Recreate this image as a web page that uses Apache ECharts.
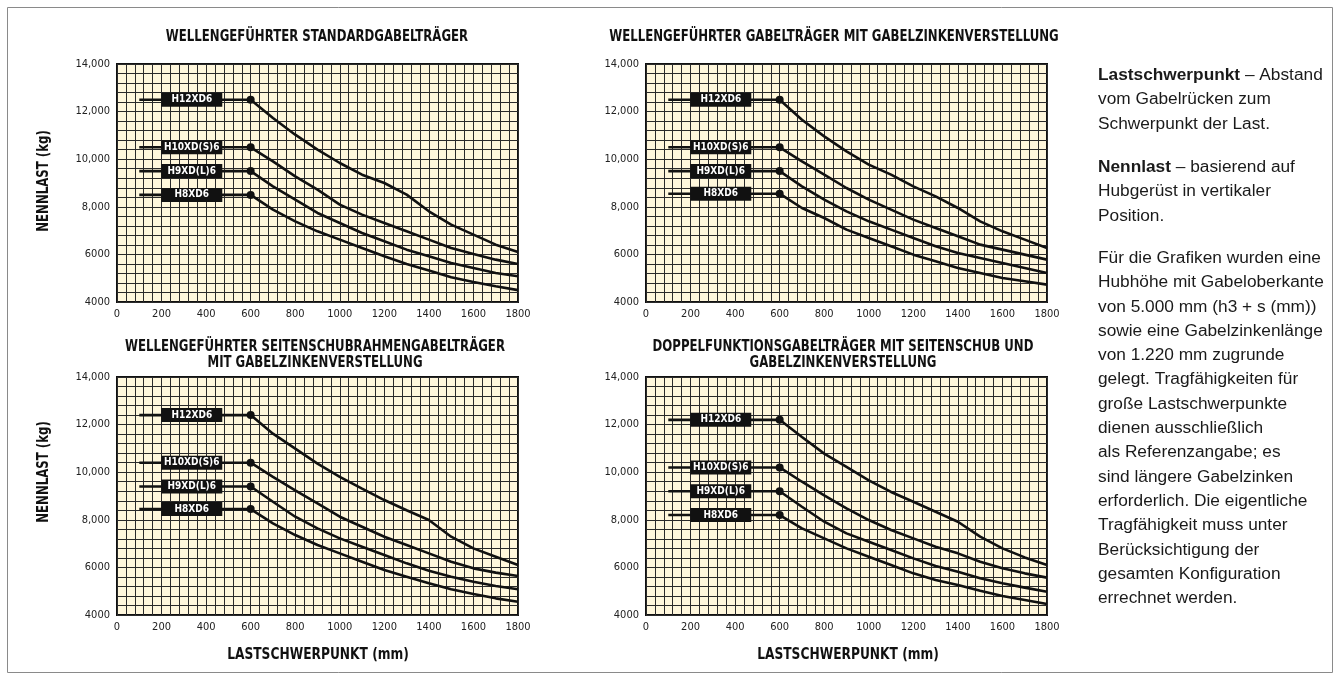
<!DOCTYPE html>
<html><head><meta charset="utf-8">
<script src="https://cdn.jsdelivr.net/npm/echarts@6/dist/echarts.min.js"></script>
<style>html,body{margin:0;padding:0;background:#fff}#c{width:1340px;height:679px}</style>
</head><body><div id="c"></div>
<script>
// ---------- data ----------
const chartTitles = [
  ['WELLENGEFÜHRTER STANDARDGABELTRÄGER'],
  ['WELLENGEFÜHRTER GABELTRÄGER MIT GABELZINKENVERSTELLUNG'],
  ['WELLENGEFÜHRTER SEITENSCHUBRAHMENGABELTRÄGER', 'MIT GABELZINKENVERSTELLUNG'],
  ['DOPPELFUNKTIONSGABELTRÄGER MIT SEITENSCHUB UND', 'GABELZINKENVERSTELLUNG']
];
const modelNames = ['H12XD6', 'H10XD(S)6', 'H9XD(L)6', 'H8XD6'];
const flatStart = 100;   // mm where the rated-capacity line begins
const loadCenters = [600, 700, 800, 900, 1000, 1100, 1200, 1300, 1400, 1500, 1600, 1700, 1800];

const c1_H12 = [12500, 11730, 11030, 10400, 9840, 9350, 9000, 8510, 7810, 7250, 6830, 6410, 6100];
const c1_H10 = [10500, 9910, 9280, 8720, 8090, 7670, 7320, 6970, 6620, 6270, 6020, 5780, 5600];
const c1_H9  = [9500, 8860, 8300, 7740, 7320, 6900, 6550, 6200, 5920, 5640, 5430, 5220, 5080];
const c1_H8  = [8500, 7880, 7390, 6970, 6620, 6270, 5920, 5600, 5320, 5040, 4840, 4660, 4500];

const c2_H12 = [12500, 11660, 10960, 10330, 9770, 9350, 8860, 8440, 7950, 7390, 6970, 6620, 6270];
const c2_H10 = [10500, 9910, 9350, 8790, 8300, 7880, 7460, 7110, 6760, 6410, 6200, 5990, 5780];
const c2_H9  = [9500, 8860, 8300, 7810, 7390, 7040, 6690, 6340, 6060, 5850, 5640, 5430, 5220];
const c2_H8  = [8550, 7950, 7530, 7040, 6690, 6340, 5990, 5710, 5430, 5220, 5010, 4870, 4730];

const c3_H12 = [12400, 11620, 10990, 10360, 9800, 9310, 8830, 8400, 7990, 7290, 6800, 6450, 6100];
const c3_H10 = [10400, 9800, 9240, 8690, 8130, 7710, 7290, 6940, 6590, 6240, 5960, 5780, 5640];
const c3_H9  = [9400, 8760, 8130, 7640, 7220, 6870, 6520, 6170, 5860, 5610, 5400, 5220, 5080];
const c3_H8  = [8450, 7850, 7360, 6940, 6590, 6240, 5890, 5610, 5330, 5080, 4880, 4700, 4560];

const c4_H12 = [12200, 11480, 10780, 10220, 9660, 9170, 8760, 8340, 7920, 7290, 6800, 6420, 6100];
const c4_H10 = [10200, 9600, 9030, 8480, 7990, 7570, 7220, 6870, 6590, 6240, 5960, 5750, 5570];
const c4_H9  = [9200, 8550, 7920, 7430, 7080, 6730, 6380, 6060, 5820, 5540, 5330, 5150, 4980];
const c4_H8  = [8200, 7640, 7220, 6800, 6450, 6100, 5750, 5470, 5260, 5020, 4800, 4630, 4460];

const xTickValues = [0, 200, 400, 600, 800, 1000, 1200, 1400, 1600, 1800];
const xTickLabels = ['0', '200', '400', '600', '800', '1000', '1200', '1400', '1600', '1800'];
const yTickValues = [4000, 6000, 8000, 10000, 12000, 14000];
const yTickLabels = ['4000', '6000', '8,000', '10,000', '12,000', '14,000'];

const yAxisTitle = 'NENNLAST (kg)';
const xAxisTitle = 'LASTSCHWERPUNKT (mm)';

const notes = [
  ['{b|Lastschwerpunkt} – Abstand', 'vom Gabelrücken zum', 'Schwerpunkt der Last.'],
  ['{b|Nennlast} – basierend auf', 'Hubgerüst in vertikaler', 'Position.'],
  ['Für die Grafiken wurden eine', 'Hubhöhe mit Gabeloberkante', 'von 5.000 mm (h3 + s (mm))',
   'sowie eine Gabelzinkenlänge', 'von 1.220 mm zugrunde', 'gelegt. Tragfähigkeiten für',
   'große Lastschwerpunkte', 'dienen ausschließlich', 'als Referenzangabe; es',
   'sind längere Gabelzinken', 'erforderlich. Die eigentliche', 'Tragfähigkeit muss unter',
   'Berücksichtigung der', 'gesamten Konfiguration', 'errechnet werden.']
];

const chartSeries = [
  [c1_H12, c1_H10, c1_H9, c1_H8],
  [c2_H12, c2_H10, c2_H9, c2_H8],
  [c3_H12, c3_H10, c3_H9, c3_H8],
  [c4_H12, c4_H10, c4_H9, c4_H8]
];

// ---------- layout / style ----------
const NARROW = '"Liberation Sans Narrow","DejaVu Sans Condensed","Arial Narrow",sans-serif';
const SANS = '"Liberation Sans",Arial,Helvetica,sans-serif';
const gridBoxes = [
  {left: 117, top: 64, width: 401, height: 238},
  {left: 646, top: 64, width: 401, height: 238},
  {left: 117, top: 377, width: 401, height: 238},
  {left: 646, top: 377, width: 401, height: 238}
];
const titleAnchors = [
  {x: 317, y: 29}, {x: 834, y: 29}, {x: 315, y: 339}, {x: 843, y: 339}
];
const yNameAnchors = [{x: 44, y: 181}, {x: 44, y: 472}];
const xNameAnchors = [{x: 318, y: 655}, {x: 848, y: 655}];
const TEXT_SQUEEZE = 0.87;

const GRIDLINE = '#2a2a2a';
const grids = [], xAxes = [], yAxes = [], series = [];

gridBoxes.forEach((b, g) => {
  grids.push(Object.assign({show: true, backgroundColor: '#FFF7DC', borderColor: '#111', borderWidth: 2, containLabel: false}, b));
  xAxes.push({
    type: 'value', gridIndex: g, min: 0, max: 1800, interval: 200,
    axisLine: {show: false}, axisTick: {show: false},
    axisLabel: {fontFamily: NARROW, fontSize: 11, color: '#222', margin: 7,
      formatter: v => { const i = xTickValues.indexOf(v); return i >= 0 ? xTickLabels[i] : ''; }},
    splitLine: {show: true, lineStyle: {color: GRIDLINE, width: 1}},
    minorTick: {show: false, splitNumber: 5},
    minorSplitLine: {show: true, lineStyle: {color: GRIDLINE, width: 1}}
  });
  yAxes.push({
    type: 'value', gridIndex: g, min: 4000, max: 14000, interval: 2000,
    axisLine: {show: false}, axisTick: {show: false},
    axisLabel: {fontFamily: NARROW, fontSize: 11, color: '#222', margin: 7,
      formatter: v => { const i = yTickValues.indexOf(v); return i >= 0 ? yTickLabels[i] : ''; }},
    splitLine: {show: true, lineStyle: {color: GRIDLINE, width: 1}},
    minorTick: {show: false, splitNumber: 5},
    minorSplitLine: {show: true, lineStyle: {color: GRIDLINE, width: 1}}
  });
  chartSeries[g].forEach((vals, s) => {
    const name = modelNames[s];
    const data = [{
      value: [flatStart, vals[0]],
      label: {
        show: true, position: 'right', distance: 22,
        formatter: '{t|' + name + '}',
        rich: {t: {width: 61, height: 14, lineHeight: 14, align: 'center', backgroundColor: '#111',
                   color: '#fff', fontFamily: NARROW, fontWeight: 'bold', fontSize: 10}}
      }
    }].concat(loadCenters.map((x, k) => [x, vals[k]]));
    series.push({
      type: 'line', name: name, xAxisIndex: g, yAxisIndex: g, data: data,
      symbol: 'circle', showSymbol: true, showAllSymbol: true,
      symbolSize: (v, p) => p.dataIndex === 1 ? 8 : 0,
      lineStyle: {color: '#111', width: 2.6}, itemStyle: {color: '#111'},
      label: {show: false}, emphasis: {disabled: true}, silent: true, z: 5
    });
  });
});

const graphics = [{
  type: 'rect', shape: {x: 7.5, y: 7.5, width: 1325, height: 665},
  style: {fill: null, stroke: '#8a8a8a', lineWidth: 1}, z: -10, silent: true
}];
chartTitles.forEach((lines, g) => {
  graphics.push({
    type: 'text', x: titleAnchors[g].x, y: titleAnchors[g].y, scaleX: TEXT_SQUEEZE, silent: true,
    style: {text: lines.join('\n'), textAlign: 'center', textVerticalAlign: 'top',
            font: 'bold 15px ' + NARROW, fill: '#111', lineHeight: 16}
  });
});
yNameAnchors.forEach(a => {
  graphics.push({
    type: 'text', x: a.x, y: a.y, rotation: Math.PI / 2, scaleX: TEXT_SQUEEZE, silent: true,
    style: {text: yAxisTitle, textAlign: 'center', textVerticalAlign: 'middle',
            font: 'bold 15px ' + NARROW, fill: '#111'}
  });
});
xNameAnchors.forEach(a => {
  graphics.push({
    type: 'text', x: a.x, y: a.y, scaleX: 0.85, silent: true,
    style: {text: xAxisTitle, textAlign: 'center', textVerticalAlign: 'middle',
            font: 'bold 16px ' + NARROW, fill: '#111'}
  });
});
const noteTops = [63, 155, 246];
notes.forEach((lines, i) => {
  graphics.push({
    type: 'text', x: 1098, y: noteTops[i], silent: true,
    style: {text: lines.join('\n'), font: '17.3px ' + SANS, fill: '#1a1a1a', lineHeight: 24.3,
            textVerticalAlign: 'top',
            rich: {b: {fontWeight: 'bold', fontFamily: SANS, fontSize: 17.3, fill: '#1a1a1a', lineHeight: 24.3}}}
  });
});

const chart = echarts.init(document.getElementById('c'), null, {renderer: 'canvas'});
chart.setOption({
  animation: false,
  backgroundColor: '#fff',
  grid: grids, xAxis: xAxes, yAxis: yAxes, series: series,
  graphic: graphics
});
</script></body></html>
